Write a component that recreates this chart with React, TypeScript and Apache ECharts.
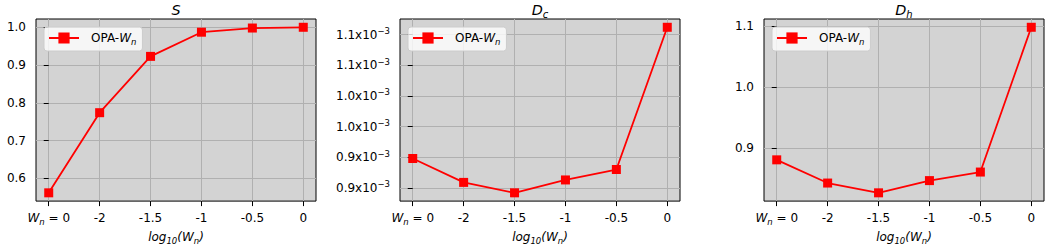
import { useEffect, useRef } from 'react';
import * as echarts from 'echarts';

const xPositions = [0, 1, 2, 3, 4, 5];
const xTickLabels = ['W_n = 0', '-2', '-1.5', '-1', '-0.5', '0'];
const sValues = [0.562, 0.774, 0.923, 0.987, 0.998, 1.0];
// D_c values in units of 10^-3
const dcValues = [0.948, 0.909, 0.892, 0.913, 0.930, 1.162];
const dhValues = [0.881, 0.843, 0.827, 0.847, 0.861, 1.098];
const sTicks = [0.6, 0.7, 0.8, 0.9, 1.0];
const dcTicks = [0.9, 0.95, 1.0, 1.05, 1.1, 1.15];
const dcTickLabels = ['0.9', '0.9', '1.0', '1.0', '1.1', '1.1'];
const dhTicks = [0.9, 1.0, 1.1];
const seriesName = 'OPA-Wn';
const titles = ['{ti|S}', '{ti|D}{ts|c}', '{ti|D}{ts|h}'];

const FONT = '"DejaVu Sans", sans-serif';
const rich: any = {
  r: { fontFamily: FONT, fontSize: 12, color: '#000', lineHeight: 16 },
  i: { fontFamily: FONT, fontSize: 12, color: '#000', fontStyle: 'italic', lineHeight: 16 },
  s: { fontFamily: FONT, fontSize: 8.5, color: '#000', fontStyle: 'italic', lineHeight: 9, verticalAlign: 'bottom' },
  sup: { fontFamily: FONT, fontSize: 8.5, color: '#000', lineHeight: 9, verticalAlign: 'top' },
  ti: { fontFamily: FONT, fontSize: 14.4, color: '#000', fontStyle: 'italic', lineHeight: 18 },
  ts: { fontFamily: FONT, fontSize: 10, color: '#000', fontStyle: 'italic', lineHeight: 10, verticalAlign: 'bottom' },
};

const toRich = (s: string) =>
  s.startsWith('W_n') ? '{i|W}{s|n}{r|' + s.slice(3) + '}' : '{r|' + s + '}';

function range(vals: number[]) {
  const mn = Math.min(...vals);
  const mx = Math.max(...vals);
  const pad = (mx - mn) * 0.05;
  return [mn - pad, mx + pad];
}

export default function App() {
  const ref = useRef<HTMLDivElement>(null);
  useEffect(() => {
    if (!ref.current) return;
    const chart = echarts.init(ref.current, undefined, { renderer: 'svg' });
    const lefts = [36, 400, 764];
    const W = 280;
    const top = 19;
    const H = 190;
    const datasets = [sValues, dcValues, dhValues];
    const ticks = [sTicks, dcTicks, dhTicks];
    const yFormatters = [
      (v: number) => '{r|' + v.toFixed(1) + '}',
      (v: number) => {
        const idx = dcTicks.findIndex((t) => Math.abs(t - v) < 1e-6);
        return '{r|' + (idx >= 0 ? dcTickLabels[idx] : v.toFixed(1)) + 'x10}{sup|\u22123}';
      },
      (v: number) => '{r|' + v.toFixed(1) + '}',
    ];
    const gridLine = { show: true, lineStyle: { color: '#b0b0b0', width: 1 } };
    const option: any = {
      animation: false,
      textStyle: { fontFamily: FONT, fontSize: 12, color: '#000' },
      grid: lefts.map((l) => ({
        left: l, top, width: W, height: H, show: true,
        backgroundColor: '#d3d3d3', borderColor: '#000', borderWidth: 1,
        containLabel: false,
      })),
      xAxis: lefts.map((_, i) => ({
        type: 'value', gridIndex: i, min: -0.25, max: 5.25,
        axisLine: { show: false },
        axisTick: { show: true, length: 5, customValues: xPositions, lineStyle: { color: '#000' } },
        axisLabel: {
          customValues: xPositions, margin: 9, fontFamily: FONT,
          formatter: (v: number) => toRich(xTickLabels[Math.round(v)] ?? ''),
          rich,
        },
        splitLine: gridLine,
        name: '{i|log}{s|10}{i|(W}{s|n}{i|)}',
        nameLocation: 'middle', nameGap: 25,
        nameTextStyle: { rich, fontFamily: FONT },
      })),
      yAxis: lefts.map((_, i) => {
        const [mn, mx] = range(datasets[i]);
        return {
          type: 'value', gridIndex: i, min: mn, max: mx,
          axisLine: { show: false },
          axisTick: { show: true, length: 5, customValues: ticks[i], lineStyle: { color: '#000' } },
          axisLabel: { customValues: ticks[i], margin: 10, formatter: yFormatters[i], rich, fontFamily: FONT },
          splitLine: gridLine,
        };
      }),
      legend: lefts.map((l) => ({
        left: l + 8, top: 27,
        data: [seriesName],
        itemWidth: 30, itemHeight: 14, itemGap: 0,
        padding: [5, 6, 5, 4],
        backgroundColor: 'rgba(255,255,255,0.8)',
        borderColor: '#cccccc', borderWidth: 1, borderRadius: 3,
        formatter: () => '{r|OPA-}{i|W}{s|n}',
        textStyle: { rich, fontFamily: FONT, padding: [0, 0, 0, 7] },
      })),
      series: datasets.map((vals, i) => ({
        name: seriesName, type: 'line', xAxisIndex: i, yAxisIndex: i,
        data: xPositions.map((x, j) => [x, vals[j]]),
        symbol: 'rect', symbolSize: 9,
        lineStyle: { color: '#ff0000', width: 1.8 },
        itemStyle: { color: '#ff0000' },
      })),
      graphic: lefts.map((l, i) => ({
        type: 'text', x: l + W / 2, y: 10,
        style: { text: titles[i], rich, align: 'center', verticalAlign: 'middle', fontFamily: FONT },
      })),
    };
    chart.setOption(option);
    return () => chart.dispose();
  }, []);
  return (
    <div style={{ position: 'fixed', left: 0, top: 0, width: 1051, height: 250, background: '#fff' }}>
      <div ref={ref} style={{ width: 1051, height: 250 }} />
    </div>
  );
}
